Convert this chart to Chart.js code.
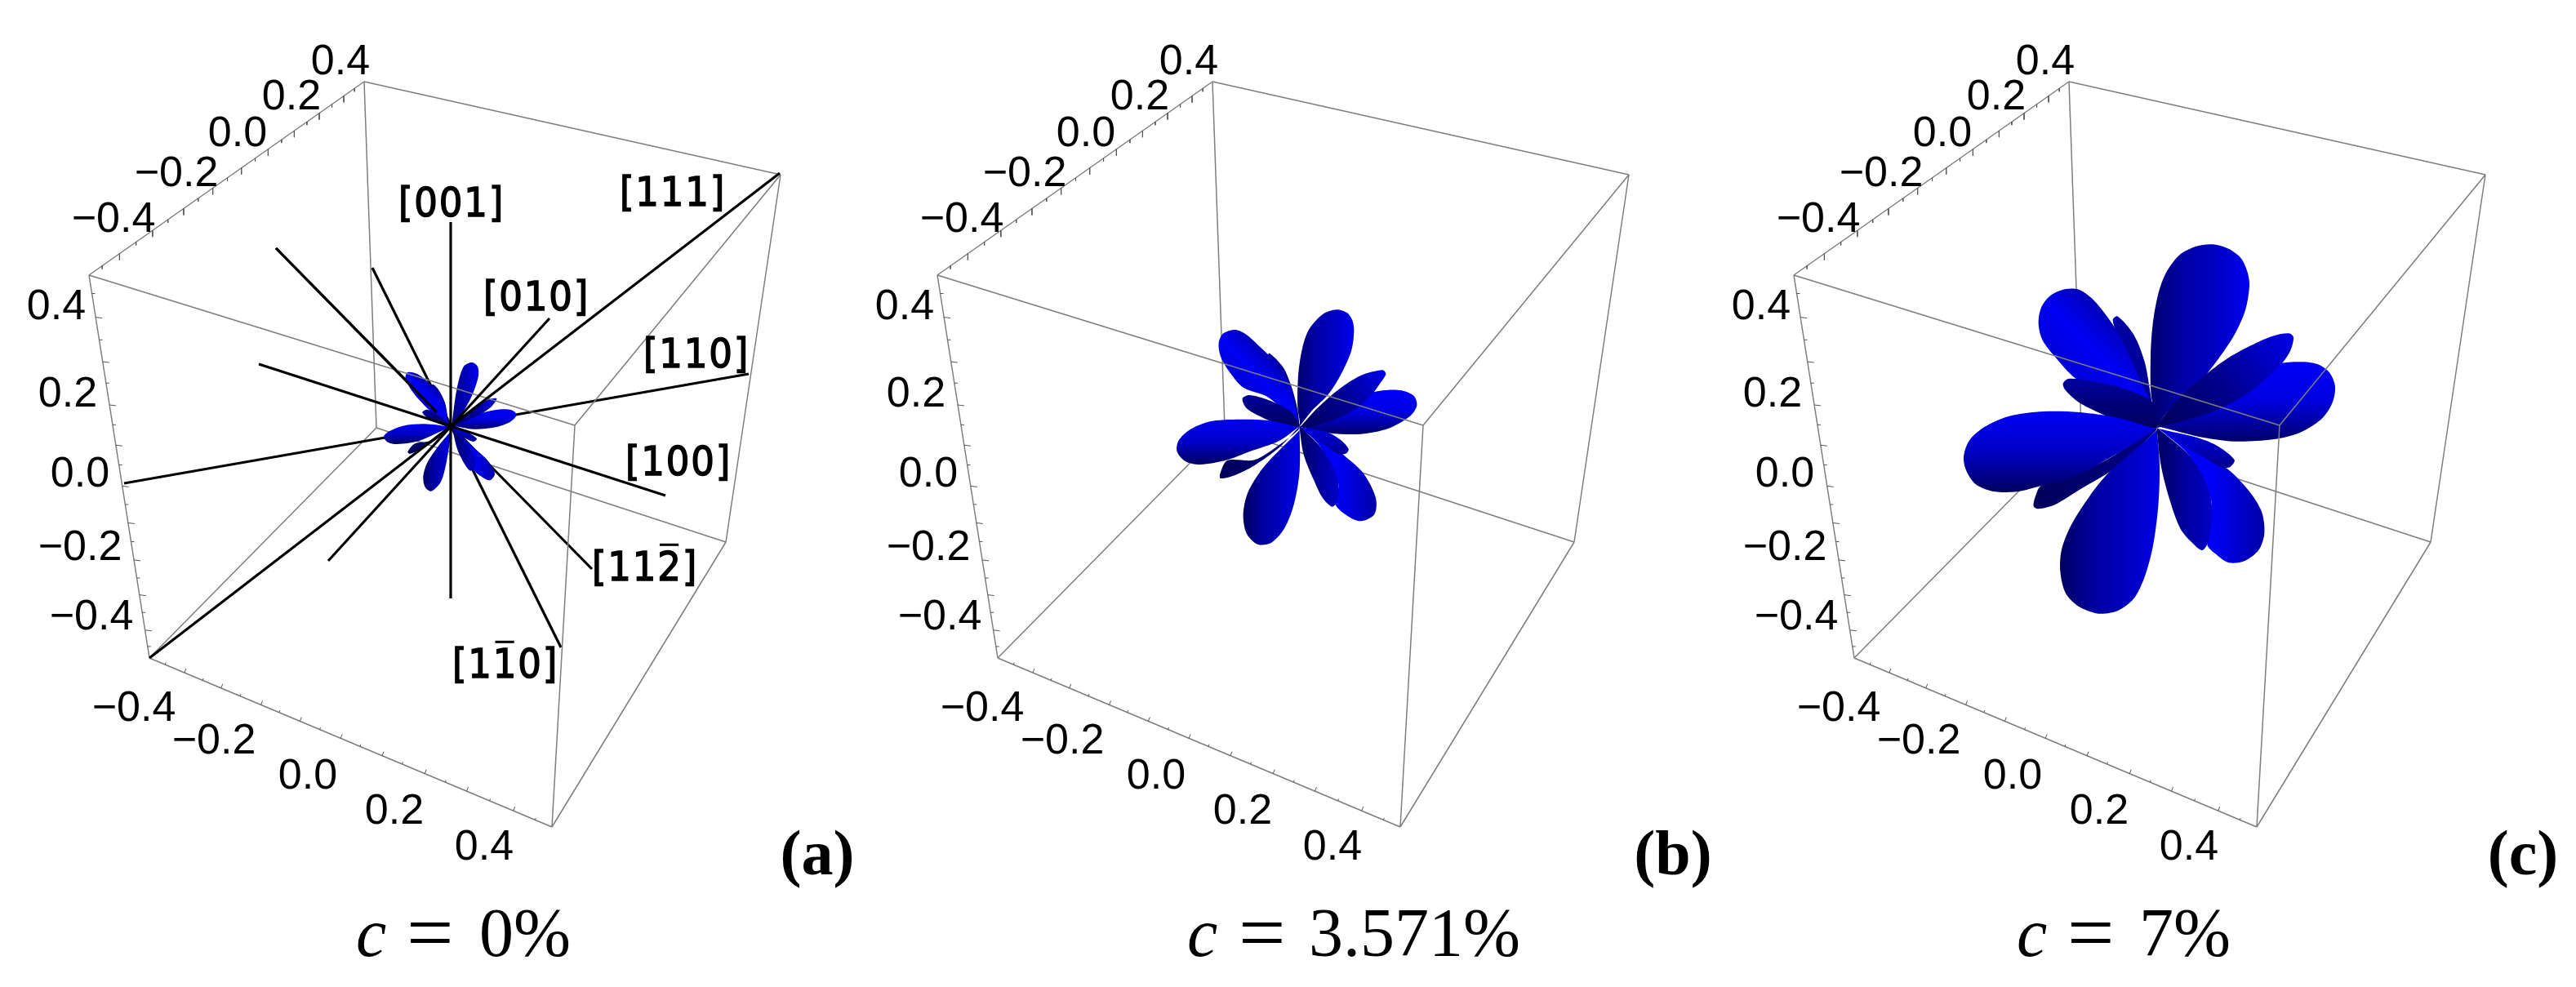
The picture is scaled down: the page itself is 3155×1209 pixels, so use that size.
<!DOCTYPE html>
<html>
<head>
<meta charset="utf-8">
<title>Lobes</title>
<style>
  html, body { margin: 0; padding: 0; background: #ffffff; }
  canvas { display: block; }
</style>
<script src="https://cdn.jsdelivr.net/npm/chart.js@4/dist/chart.umd.min.js"></script>
</head>
<body>
<canvas id="lobeChart" width="3155" height="1209"></canvas>
<script>
// everything is read in the picture's own units, panel (a) frame
const panelShift = [0, 1039, 2088];

const cubeBackEdges = [
  [[446, 100], [461, 524]],
  [[461, 524], [183, 806]],
  [[461, 524], [889, 664]],
];
const cubeFrontEdges = [
  [[446, 100], [956, 214]],
  [[446, 100], [109, 337]],
  [[109, 337], [704, 521]],
  [[956, 214], [704, 521]],
  [[109, 337], [183, 806]],
  [[183, 806], [676, 1013]],
  [[676, 1013], [889, 664]],
  [[889, 664], [956, 214]],
  [[704, 521], [676, 1013]],
];

// where the ticks sit along each ruled edge, 0 to 1
const topEdgeTicks = [.048, .111, .171, .231, .287, .344, .397, .450, .503, .554, .604, .651, .700, .746, .792, .837, .883, .926, .965];
const leftEdgeTicks = [.048, .110, .169, .226, .282, .339, .391, .444, .496, .551, .599, .647, .696, .744, .791, .835, .881, .927, .970];
const bottomEdgeTicks = [.039, .087, .132, .178, .225, .277, .322, .374, .423, .475, .523, .578, .628, .684, .735, .788, .845, .904, .958];

const tickTexts = ["\u22120.4", "\u22120.2", "0.0", "0.2", "0.4"];
const topTickLabelPos = [[139, 265], [216, 209], [291, 160], [357, 115], [417, 72]];
const leftTickLabelPos = [[112, 752], [98, 667], [98, 577], [83, 479], [69, 372]];
const bottomTickLabelPos = [[164, 864], [262, 904], [377, 947], [483, 990], [593, 1034]];

const directionNames = ["[001]", "[111]", "[010]", "[110]", "[100]", "[112]", "[110]"];
// which character of the name carries an overbar, -1 for none
const directionBarAt = [-1, -1, -1, -1, -1, 3, 2];
const directionLabelPos = [[553, 247], [824, 234], [657, 362], [853, 432], [831, 564], [790, 693], [619, 812]];

const linesBehindLobes = [
  [[917, 458], [152, 592]],
  [[687, 793], [456, 328]],
  [[725, 697], [338, 304]],
];
const linesOverLobes = [
  [[552, 272], [552, 733]],
  [[955, 212], [183, 806]],
  [[673, 390], [402, 687]],
  [[815, 607], [317, 446]],
  [[338, 304], [535, 505]],
];

// lobe outlines in 3x crop readings, each crop with its own lobe centre
const cropA = [380, 380];
const cropB = [1380, 360];
const cropC = [2360, 270];
const centerA = [518, 428];
const centerB = [635, 487];
const centerC = [845, 762];

const lobesA = [
  [[510, 420], [495, 340], [470, 290], [450, 272], [440, 290], [470, 380]],
  [[505, 415], [490, 330], [440, 272], [395, 235], [358, 228], [350, 252], [380, 305], [440, 370], [500, 425]],
  [[515, 425], [470, 385], [430, 365], [412, 375], [430, 395], [480, 420], [515, 430]],
  [[520, 420], [533, 320], [545, 260], [565, 205], [595, 192], [615, 207], [618, 240], [600, 300], [570, 360], [530, 415]],
  [[525, 425], [600, 437], [680, 430], [735, 410], [758, 385], [740, 367], [690, 365], [640, 375], [560, 405]],
  [[525, 420], [590, 370], [650, 330], [685, 325], [665, 355], [620, 385], [560, 410], [525, 425]],
  [[510, 435], [440, 480], [385, 490], [358, 520], [365, 528], [410, 510], [470, 470], [515, 432]],
  [[515, 428], [420, 418], [340, 425], [290, 445], [270, 465], [285, 485], [320, 492], [400, 480], [480, 445], [515, 430]],
  [[518, 440], [470, 500], [430, 560], [415, 610], [422, 650], [445, 665], [480, 630], [500, 560], [518, 445]],
  [[525, 435], [600, 505], [650, 550], [678, 600], [660, 625], [620, 605], [590, 575], [575, 530]],
  [[525, 430], [580, 450], [612, 472], [600, 483], [560, 465], [525, 435]],
  [[523, 440], [540, 510], [570, 570], [590, 590], [610, 560], [590, 510], [540, 450]],
];
const lobesB = [
  [[630, 440], [622, 400], [605, 340], [575, 270], [525, 218], [518, 228], [540, 290], [590, 400]],
  [[625, 450], [600, 340], [530, 235], [490, 195], [440, 150], [400, 132], [355, 145], [338, 180], [345, 230], [380, 290], [430, 345], [520, 380], [620, 470]],
  [[635, 480], [600, 430], [520, 390], [450, 372], [425, 385], [440, 420], [490, 450], [560, 480], [630, 490]],
  [[636, 470], [628, 420], [630, 300], [645, 200], [670, 130], [720, 75], [770, 58], [810, 70], [830, 100], [835, 140], [825, 210], [790, 290], [740, 370], [680, 430]],
  [[640, 490], [750, 512], [860, 515], [960, 495], [1040, 450], [1066, 410], [1055, 375], [1010, 355], [940, 355], [880, 370], [760, 440]],
  [[640, 485], [700, 420], [780, 350], [860, 300], [940, 280], [952, 295], [930, 330], [900, 370], [830, 430], [740, 470], [660, 490]],
  [[630, 500], [560, 555], [470, 610], [370, 612], [343, 660], [345, 678], [400, 665], [470, 630], [560, 565]],
  [[635, 490], [520, 465], [380, 462], [300, 470], [230, 500], [190, 540], [185, 580], [215, 615], [270, 627], [370, 610], [450, 580], [560, 540]],
  [[635, 500], [560, 575], [500, 640], [445, 730], [428, 810], [440, 880], [480, 920], [530, 915], [580, 860], [615, 770], [635, 650]],
  [[640, 495], [720, 530], [800, 595], [870, 660], [915, 750], [910, 810], [860, 835], [810, 815], [765, 770], [778, 700], [710, 560]],
  [[640, 490], [740, 510], [790, 540], [815, 570], [808, 585], [780, 590], [720, 550], [660, 510]],
  [[635, 495], [650, 590], [690, 690], [720, 750], [755, 782], [775, 760], [778, 700], [760, 640], [710, 560], [650, 500]],
];
const lobesC = [
  [[830, 690], [822, 640], [800, 520], [760, 420], [700, 352], [683, 365], [700, 420], [740, 520], [790, 640]],
  [[830, 690], [790, 600], [745, 500], [700, 410], [660, 350], [610, 290], [560, 255], [510, 252], [455, 275], [420, 320], [410, 380], [425, 440], [470, 500], [545, 580], [680, 670], [830, 740]],
  [[860, 720], [820, 660], [700, 610], [600, 590], [520, 582], [500, 600], [510, 625], [560, 670], [640, 710], [740, 750], [840, 765]],
  [[850, 740], [825, 650], [822, 500], [830, 380], [850, 270], [880, 190], [930, 125], [990, 95], [1050, 88], [1110, 105], [1155, 140], [1178, 190], [1185, 240], [1170, 330], [1130, 420], [1070, 510], [1010, 585], [950, 640], [870, 720]],
  [[860, 760], [1000, 795], [1130, 812], [1270, 805], [1370, 780], [1450, 730], [1490, 670], [1500, 610], [1480, 560], [1440, 530], [1380, 520], [1300, 525], [1200, 560], [1000, 680]],
  [[855, 740], [940, 640], [1020, 570], [1100, 510], [1190, 460], [1270, 425], [1330, 415], [1347, 430], [1335, 480], [1300, 530], [1200, 620], [1100, 680], [1000, 720], [870, 755]],
  [[830, 770], [640, 890], [420, 975], [400, 1010], [392, 1050], [410, 1060], [470, 1045], [560, 990], [670, 925], [760, 850], [840, 775]],
  [[840, 765], [700, 725], [560, 705], [430, 702], [300, 720], [210, 760], [155, 810], [135, 870], [145, 920], [180, 970], [240, 995], [330, 997], [420, 975], [520, 950], [640, 890], [760, 820]],
  [[845, 770], [780, 830], [670, 925], [600, 1010], [530, 1120], [495, 1210], [490, 1290], [510, 1370], [560, 1420], [630, 1445], [700, 1435], [760, 1390], [800, 1310], [830, 1200], [850, 1050], [855, 900]],
  [[850, 770], [960, 830], [1100, 910], [1180, 990], [1230, 1070], [1240, 1150], [1220, 1210], [1170, 1250], [1110, 1258], [1060, 1225], [1030, 1190], [1045, 1030], [960, 860]],
  [[850, 765], [1000, 800], [1070, 830], [1130, 880], [1115, 905], [1085, 908], [1000, 860], [900, 800]],
  [[845, 770], [860, 900], [890, 1020], [930, 1130], [970, 1180], [1010, 1212], [1030, 1190], [1045, 1130], [1045, 1030], [1020, 950], [960, 860], [880, 790]],
];

const panelTags = ["(a)", "(b)", "(c)"];
const panelTagX = [1001, 2049, 3090];
const concentrationTexts = ["0%", "3.571%", "7%"];
const concentrationSymbolX = [436, 1454, 2470];
const concentrationEqualsX = [498, 1517, 2532];
const concentrationValueX = [587, 1603, 2620];

// shading of each lobe, same order as the outlines: direction in degrees, then colours
const lobeShadeAngle = [0, -45, 90, 0, -90, -35, 0, -90, 0, 0, 90, 0];
const lobeShadeStops = [
  ["#0000a8", "#000090"],
  ["#0000d8", "#0000f5", "#0000b8"],
  ["#0000a0", "#00007a", "#000060"],
  ["#000070", "#0000a8", "#0000c4", "#0000f0"],
  ["#00006a", "#0000e0", "#0000f8"],
  ["#000058", "#000090", "#0000e8"],
  ["#000058", "#00008c"],
  ["#000060", "#0000c8", "#0000f2"],
  ["#000060", "#0000a0", "#0000c0", "#0000e8"],
  ["#0000e8", "#0000f8", "#0000a8"],
  ["#0000e8", "#000090"],
  ["#000060", "#00009c", "#0000c8"],
];

function segmentsToPoints(segments, shift) {
  const points = [];
  segments.forEach((segment) => {
    segment.forEach(([x, y]) => points.push({ x: x + shift, y }));
    points.push({ x: NaN, y: NaN });
  });
  return points;
}

function tickSegments(start, end, fractions, longOffset, shortOffset) {
  return fractions.map((f, i) => {
    const x = start[0] + (end[0] - start[0]) * f;
    const y = start[1] + (end[1] - start[1]) * f;
    const offset = i % 2 === 1 ? longOffset : shortOffset;
    return [[x, y], [x + offset[0], y + offset[1]]];
  });
}

function lineDataset(points, color, width) {
  return {
    type: "scatter",
    data: points,
    showLine: true,
    spanGaps: false,
    borderColor: color,
    borderWidth: width,
    pointRadius: 0,
    borderCapStyle: "butt",
    fill: false,
    tension: 0,
  };
}

function lobeGradient(context, points, angle, stops) {
  const { chart } = context;
  const xScale = chart.scales.x;
  const yScale = chart.scales.y;
  const dirX = Math.cos((angle * Math.PI) / 180);
  const dirY = Math.sin((angle * Math.PI) / 180);
  const along = points.map((p) => p.x * dirX + p.y * dirY);
  const low = Math.min(...along);
  const high = Math.max(...along);
  const midX = points.reduce((sum, p) => sum + p.x, 0) / points.length;
  const midY = points.reduce((sum, p) => sum + p.y, 0) / points.length;
  const midAlong = midX * dirX + midY * dirY;
  const x0 = xScale.getPixelForValue(midX + (low - midAlong) * dirX);
  const y0 = yScale.getPixelForValue(midY + (low - midAlong) * dirY);
  const x1 = xScale.getPixelForValue(midX + (high - midAlong) * dirX);
  const y1 = yScale.getPixelForValue(midY + (high - midAlong) * dirY);
  // options also get resolved once before the scales have a size
  if (![x0, y0, x1, y1].every(Number.isFinite)) {
    return stops[0];
  }
  const gradient = chart.ctx.createLinearGradient(x0, y0, x1, y1);
  stops.forEach((color, i) => gradient.addColorStop(i / (stops.length - 1), color));
  return gradient;
}

function lobeDataset(outline, crop, center, index) {
  const closed = [center, ...outline, center];
  const points = closed.map(([x, y]) => ({ x: crop[0] + x / 3, y: crop[1] + y / 3 }));
  return {
    type: "scatter",
    data: points,
    showLine: true,
    borderWidth: 0,
    borderColor: "rgba(0,0,0,0)",
    pointRadius: 0,
    tension: 0.3,
    fill: "shape",
    backgroundColor: (context) => lobeGradient(context, points, lobeShadeAngle[index], lobeShadeStops[index]),
  };
}

const drawList = [];
panelShift.forEach((shift) => {
  drawList.push(lineDataset(segmentsToPoints(cubeBackEdges, shift), "#7d7d7d", 1.5));
});
drawList.push(lineDataset(segmentsToPoints(linesBehindLobes, 0), "#000000", 3.2));
[[lobesA, cropA, centerA], [lobesB, cropB, centerB], [lobesC, cropC, centerC]].forEach(([lobes, crop, center]) => {
  lobes.forEach((outline, i) => drawList.push(lobeDataset(outline, crop, center, i)));
});
panelShift.forEach((shift) => {
  drawList.push(lineDataset(segmentsToPoints(cubeFrontEdges, shift), "#7d7d7d", 1.5));
  const ticks = [
    ...tickSegments([109, 337], [446, 100], topEdgeTicks, [0, 8], [0, 4]),
    ...tickSegments([109, 337], [183, 806], leftEdgeTicks, [8, 1], [4, 0]),
    ...tickSegments([183, 806], [676, 1013], bottomEdgeTicks, [2, -5], [1, -2.5]),
  ];
  drawList.push(lineDataset(segmentsToPoints(ticks, shift), "#555555", 1));
});
drawList.push(lineDataset(segmentsToPoints(linesOverLobes, 0), "#000000", 3.2));

// later entries go on top
drawList.forEach((dataset, i) => {
  dataset.order = drawList.length - i;
});

function drawDirectionLabel(ctx, xScale, yScale, text, pos, barAt) {
  const size = 50;
  ctx.save();
  ctx.translate(xScale.getPixelForValue(pos[0]), yScale.getPixelForValue(pos[1]) + size * 0.365);
  ctx.scale(0.9, 1);
  ctx.font = `${size}px "DejaVu Sans"`;
  ctx.letterSpacing = "2px";
  ctx.textAlign = "left";
  ctx.textBaseline = "alphabetic";
  ctx.fillStyle = "#000000";
  ctx.strokeStyle = "#000000";
  ctx.lineWidth = 1.6;
  const left = -ctx.measureText(text).width / 2;
  ctx.fillText(text, left, 0);
  ctx.strokeText(text, left, 0);
  if (barAt >= 0) {
    const barLeft = left + ctx.measureText(text.slice(0, barAt)).width;
    const barWidth = ctx.measureText(text[barAt]).width;
    ctx.fillRect(barLeft + 3, -size * 0.729 - 9, barWidth - 8, 3);
  }
  ctx.restore();
}

const textPlugin = {
  id: "panelText",
  afterDatasetsDraw(chart) {
    const { ctx } = chart;
    const xScale = chart.scales.x;
    const yScale = chart.scales.y;
    const px = (x) => xScale.getPixelForValue(x);
    const py = (y) => yScale.getPixelForValue(y);

    ctx.save();
    ctx.textBaseline = "alphabetic";
    ctx.fillStyle = "#000000";

    panelShift.forEach((shift, panel) => {
      ctx.font = '52px "Liberation Sans"';
      ctx.textAlign = "center";
      [topTickLabelPos, leftTickLabelPos, bottomTickLabelPos].forEach((labelPos) => {
        labelPos.forEach((pos, i) => {
          ctx.fillText(tickTexts[i], px(pos[0] + shift), py(pos[1]) + 18.6);
        });
      });

      ctx.font = 'bold 78px "Liberation Serif"';
      ctx.fillText(panelTags[panel], px(panelTagX[panel]), py(1071));

      ctx.textAlign = "left";
      ctx.font = 'italic 84px "Liberation Serif"';
      ctx.fillText("c", px(concentrationSymbolX[panel]), py(1171));
      ctx.font = '102px "Liberation Serif"';
      ctx.fillText("=", px(concentrationEqualsX[panel]), py(1176));
      ctx.font = '84px "Liberation Serif"';
      ctx.fillText(concentrationTexts[panel], px(concentrationValueX[panel]), py(1171));
    });
    ctx.restore();

    directionNames.forEach((name, i) => {
      drawDirectionLabel(ctx, xScale, yScale, name, directionLabelPos[i], directionBarAt[i]);
    });
  },
};

new Chart(document.getElementById("lobeChart"), {
  type: "scatter",
  data: { datasets: drawList },
  options: {
    responsive: false,
    animation: false,
    layout: { padding: 0 },
    clip: false,
    scales: {
      x: { type: "linear", display: false, min: 0, max: 3155 },
      y: { type: "linear", display: false, min: 0, max: 1209, reverse: true },
    },
    plugins: {
      legend: { display: false },
      tooltip: { enabled: false },
    },
  },
  plugins: [textPlugin],
});
</script>
</body>
</html>
